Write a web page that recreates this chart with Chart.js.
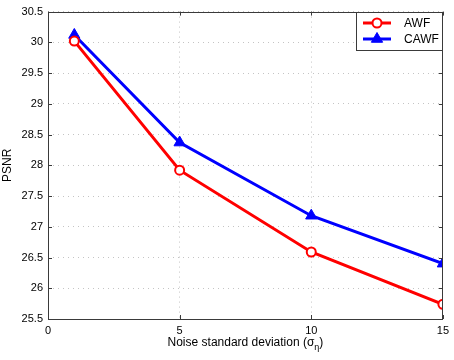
<!DOCTYPE html>
<html>
<head>
<meta charset="utf-8">
<script src="https://cdn.jsdelivr.net/npm/chart.js@4"></script>
<style>
  html, body { margin: 0; padding: 0; background: #fff; }
  #wrap { width: 454px; height: 360px; }
</style>
</head>
<body>
<div id="wrap"><canvas id="canvas" width="454" height="360"></canvas></div>
<script>
// values
const noiseStd = [1, 5, 10, 15];
const awf = [30.02, 27.92, 26.59, 25.74];
const cawf = [30.12, 28.37, 27.18, 26.40];
const xTicks = [0, 5, 10, 15];
const yMin = 25.5, yMax = 30.5;

const FONT = "'Liberation Sans', Arial, Helvetica, sans-serif";
const FRAME = '#3a3a3a';

const toPoints = (ys) => noiseStd.map((x, i) => ({x: x, y: ys[i]}));

// frame, inward ticks, legend and x label (with subscript) drawn on top
const matlabLook = {
    id: 'matlabLook',
    afterDraw(chart) {
        const ctx = chart.ctx;
        const a = chart.chartArea;
        const xs = chart.scales.x;
        const ys = chart.scales.y;

        ctx.save();
        ctx.strokeStyle = FRAME;
        ctx.lineWidth = 1;
        ctx.strokeRect(Math.round(a.left) + 0.5, Math.round(a.top) + 0.5,
            Math.round(a.right - a.left) - 1, Math.round(a.bottom - a.top));

        // little ticks pointing inwards
        const tl = 4;
        ctx.beginPath();
        xTicks.forEach(v => {
            const px = Math.round(xs.getPixelForValue(v)) + 0.5;
            ctx.moveTo(px, a.bottom); ctx.lineTo(px, a.bottom - tl);
            ctx.moveTo(px, a.top); ctx.lineTo(px, a.top + tl);
        });
        for (let v = yMin; v <= yMax + 0.001; v += 0.5) {
            const py = Math.round(ys.getPixelForValue(v)) + 0.5;
            ctx.moveTo(a.left, py); ctx.lineTo(a.left + tl, py);
            ctx.moveTo(a.right, py); ctx.lineTo(a.right - tl, py);
        }
        ctx.stroke();

        // legend box
        const bx = 356, by = Math.round(a.top), bw = Math.round(a.right) - 356, bh = 38;
        ctx.fillStyle = '#fff';
        ctx.fillRect(bx, by, bw, bh);
        ctx.strokeRect(bx + 0.5, by + 0.5, bw - 1, bh);
        chart.data.datasets.forEach((ds, i) => {
            const ry = by + 11 + i * 16;
            ctx.strokeStyle = ds.borderColor;
            ctx.lineWidth = 3;
            ctx.beginPath();
            ctx.moveTo(363, ry); ctx.lineTo(391, ry);
            ctx.stroke();
            ctx.lineWidth = ds.pointBorderWidth;
            ctx.fillStyle = ds.pointBackgroundColor;
            if (ds.pointStyle === 'triangle') {
                const r = ds.pointRadius;
                ctx.beginPath();
                ctx.moveTo(377, ry - r);
                ctx.lineTo(377 + r * 0.866, ry + r * 0.5);
                ctx.lineTo(377 - r * 0.866, ry + r * 0.5);
                ctx.closePath();
                ctx.fill();
                ctx.stroke();
            } else {
                ctx.beginPath();
                ctx.arc(377, ry, ds.pointRadius, 0, Math.PI * 2);
                ctx.fill();
                ctx.stroke();
            }
            ctx.fillStyle = '#000';
            ctx.font = '12px ' + FONT;
            ctx.textBaseline = 'middle';
            ctx.textAlign = 'left';
            ctx.fillText(ds.label, 404, ry + 1);
            ctx.strokeStyle = FRAME;
            ctx.lineWidth = 1;
        });

        // x axis title: Noise standard deviation (σ_η)
        ctx.fillStyle = '#000';
        ctx.textBaseline = 'alphabetic';
        ctx.textAlign = 'left';
        const main = 'Noise standard deviation (σ';
        ctx.font = '12px ' + FONT;
        const w1 = ctx.measureText(main).width;
        ctx.font = '9px ' + FONT;
        const w2 = ctx.measureText('η').width;
        ctx.font = '12px ' + FONT;
        const w3 = ctx.measureText(')').width;
        const total = w1 + w2 + w3;
        let tx = (a.left + a.right) / 2 - total / 2;
        const base = 346;
        ctx.fillText(main, tx, base);
        tx += w1;
        ctx.font = '9px ' + FONT;
        ctx.fillText('η', tx, base + 4);
        tx += w2;
        ctx.font = '12px ' + FONT;
        ctx.fillText(')', tx, base);
        ctx.restore();
    }
};

const context = document.getElementById("canvas").getContext('2d');
const psnrChart = new Chart(context, {
    type: 'line',
    data: {
        datasets: [{
            label: 'AWF',
            data: toPoints(awf),
            borderColor: '#ff0000',
            borderWidth: 3,
            pointStyle: 'circle',
            pointRadius: 4.5,
            pointBorderWidth: 2,
            pointBackgroundColor: '#ffffff',
            pointBorderColor: '#ff0000',
            tension: 0
        }, {
            label: 'CAWF',
            data: toPoints(cawf),
            borderColor: '#0000ff',
            borderWidth: 3,
            pointStyle: 'triangle',
            pointRadius: 6.5,
            pointBorderWidth: 1,
            pointBackgroundColor: '#0000ff',
            pointBorderColor: '#0000ff',
            tension: 0
        }]
    },
    options: {
        responsive: false,
        animation: false,
        layout: { padding: { left: 0, right: 10, top: 6, bottom: 0 } },
        plugins: {
            legend: { display: false },
            tooltip: { enabled: false }
        },
        scales: {
            x: {
                type: 'linear',
                min: 0,
                max: 15,
                afterBuildTicks: (scale) => { scale.ticks = xTicks.map(v => ({value: v})); },
                afterFit: (scale) => { scale.height = 41; },
                ticks: {
                    color: '#000',
                    padding: 5,
                    maxRotation: 0,
                    font: { family: FONT, size: 11 }
                },
                grid: { color: '#c4c4c4', drawTicks: false, lineWidth: 1 },
                border: { display: false, dash: [1, 4] }
            },
            y: {
                min: yMin,
                max: yMax,
                afterFit: (scale) => { scale.width = 48; },
                ticks: {
                    stepSize: 0.5,
                    color: '#000',
                    padding: 5,
                    font: { family: FONT, size: 11 },
                    callback: (v) => String(v)
                },
                title: {
                    display: true,
                    text: 'PSNR',
                    color: '#000',
                    padding: { top: 0, bottom: 0 },
                    font: { family: FONT, size: 12 }
                },
                grid: { color: '#c4c4c4', drawTicks: false, lineWidth: 1 },
                border: { display: false, dash: [1, 4] }
            }
        }
    },
    plugins: [matlabLook]
});
</script>
</body>
</html>
